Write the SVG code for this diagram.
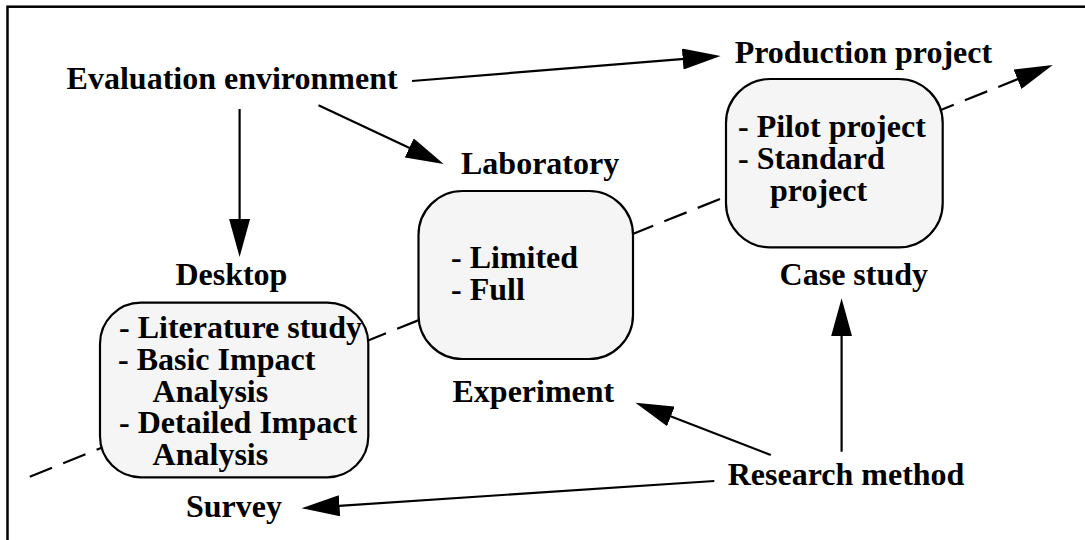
<svg xmlns="http://www.w3.org/2000/svg" width="1085" height="540" viewBox="0 0 1085 540">
<style>
text{font-family:"Liberation Serif","Times New Roman",serif;font-weight:bold;font-size:32px;fill:#000}
.box{fill:#f5f5f5;stroke:#000;stroke-width:2.2}
.conn{fill:none;stroke:#000;stroke-width:2.2}
.dash{stroke-dasharray:24 12}
</style>
<defs>
<marker id="ah" markerUnits="userSpaceOnUse" markerWidth="38" markerHeight="21" viewBox="0 0 38 21" refX="8" refY="10.5" orient="auto">
<path d="M0,0 L38,10.5 L0,21 z" fill="#000"/>
</marker>
</defs>
<rect x="0" y="0" width="1085" height="540" fill="#fff"/>
<rect id="frame" x="7.5" y="6.7" width="1200" height="700" fill="none" stroke="#000" stroke-width="2.5"/>
<g id="connectors">
<line class="conn dash" x1="29.8" y1="476.7" x2="1024.9" y2="76.2" marker-end="url(#ah)"/>
<line class="conn" x1="412" y1="81" x2="690.7" y2="58.4" marker-end="url(#ah)"/>
<line class="conn" x1="239.6" y1="109" x2="239.6" y2="227" marker-end="url(#ah)"/>
<line class="conn" x1="318.5" y1="105.3" x2="416.5" y2="151.3" marker-end="url(#ah)"/>
<line class="conn" x1="841.6" y1="451.7" x2="841.6" y2="328.3" marker-end="url(#ah)"/>
<line class="conn" x1="770.8" y1="455" x2="663.4" y2="413.5" marker-end="url(#ah)"/>
<line class="conn" x1="714.3" y1="481" x2="331.5" y2="506.3" marker-end="url(#ah)"/>
</g>
<g id="eval-env"><text x="66.6" y="89">Evaluation environment</text></g>
<g id="production"><text x="734.7" y="63">Production project</text></g>
<g id="laboratory"><text x="461" y="174">Laboratory</text></g>
<g id="desktop"><text x="175.4" y="285">Desktop</text></g>
<g id="case-study"><text x="779.6" y="285">Case study</text></g>
<g id="experiment"><text x="452.5" y="402">Experiment</text></g>
<g id="research-method"><text x="727.7" y="485">Research method</text></g>
<g id="survey"><text x="186" y="517">Survey</text></g>
<g id="desktop-box">
<rect class="box" x="100" y="302.7" width="268.3" height="174.6" rx="41" ry="41"/>
<text x="119" y="338">- Literature study</text>
<text x="118" y="370">- Basic Impact</text>
<text x="152.6" y="401.5">Analysis</text>
<text x="119" y="433">- Detailed Impact</text>
<text x="152.6" y="465">Analysis</text>
</g>
<g id="lab-box">
<rect class="box" x="418.5" y="191" width="214.5" height="168" rx="44" ry="44"/>
<text x="451" y="268">- Limited</text>
<text x="451" y="300">- Full</text>
</g>
<g id="pilot-box">
<rect class="box" x="726" y="79" width="216.7" height="168.3" rx="44" ry="44"/>
<text x="738" y="137">- Pilot project</text>
<text x="738" y="169">- Standard</text>
<text x="770" y="201">project</text>
</g>
</svg>
